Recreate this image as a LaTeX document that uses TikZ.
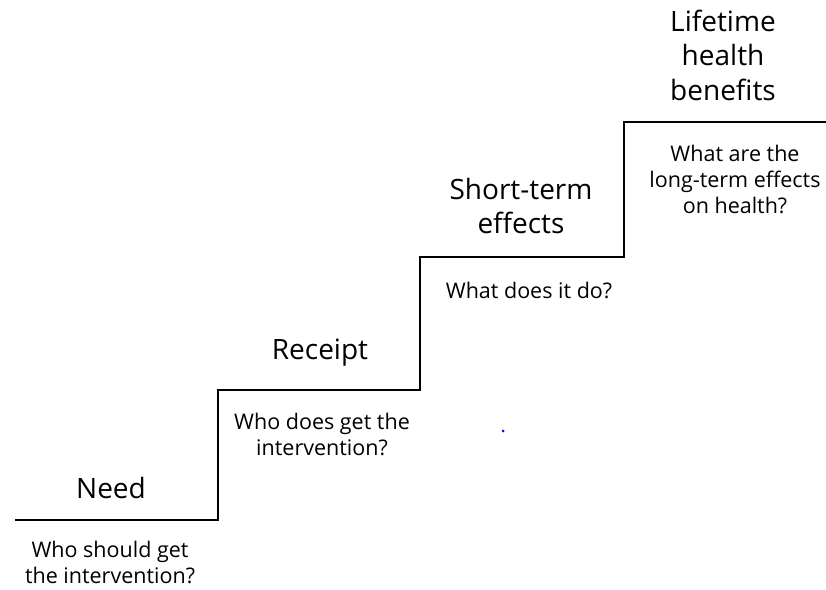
\documentclass[tikz,border=0pt]{standalone}
\usepackage{fontspec}
\setmainfont{Open Sans}
\tikzset{
  stage/.style={align=center,font=\fontsize{28}{34.5}\selectfont},
  question/.style={align=center,font=\fontsize{21.5}{26}\selectfont},
}
\begin{document}
\begin{tikzpicture}[x=1pt,y=-1pt]
  \useasboundingbox (0,0) rectangle (826,589);
  \draw[line width=2pt] (15,520) -- (218,520) -- (218,390) -- (420,390)
        -- (420,257) -- (624,257) -- (624,122) -- (826,122);
  \node[stage] (need) at (111,488) {Need};
  \node[question] (needq) at (110,562) {Who should get\\the intervention?};
  \node[stage] (receipt) at (320,353) {Receipt};
  \node[question] (receiptq) at (322,434) {Who does get the\\intervention?};
  \node[stage] (short) at (521,206) {Short-term\\effects};
  \node[question] (shortq) at (529,290) {What does it do?};
  \node[stage] (life) at (723,55) {Lifetime\\health\\benefits};
  \node[question] (lifeq) at (735,179) {What are the\\long-term effects\\on health?};
  \fill[blue] (503,431) circle (1.5pt);
\end{tikzpicture}
\end{document}
